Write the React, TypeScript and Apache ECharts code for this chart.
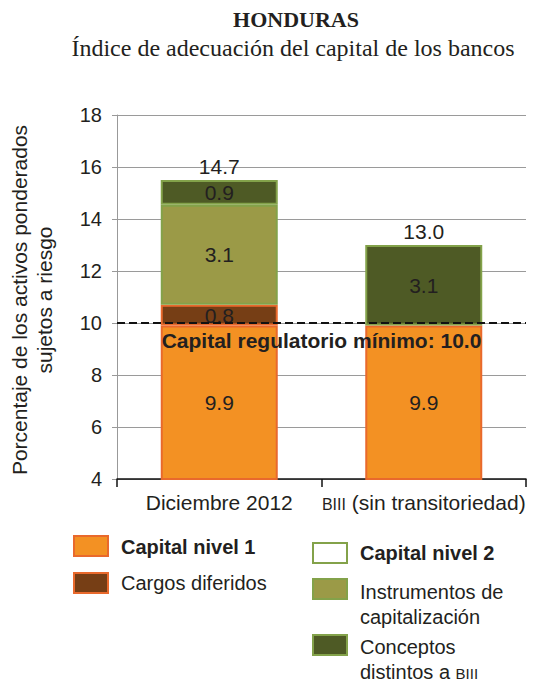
import React, { useEffect, useRef } from "react";
import * as echarts from "echarts";

const categories = ["Diciembre 2012", "{sc|BIII} (sin transitoriedad)"];
// drawn segment heights and the values printed on them
const capitalNivel1 = [9.9, 9.9];
const cargosDiferidos = [0.8, null];
const instrumentos = [3.85, null];
const conceptos = [0.95, 3.1];
const capitalNivel1Labels = ["9.9", "9.9"];
const cargosLabels = ["0.8", ""];
const instrumentosLabels = ["3.1", ""];
const conceptosLabels = ["0.9", "3.1"];
const totalLabels = ["14.7", "13.0"];
const minimoRegulatorio = 10.0;
const yTicks = { min: 4, max: 18, interval: 2 };

const FONT = "Liberation Sans, Arial, sans-serif";
const SERIF = "Liberation Serif, Times New Roman, serif";
const TXT = "#231F20";

const ORANGE = "#F39123";
const ORANGE_B = "#E9692C";
const BROWN = "#763E15";
const OLIVE = "#9B9A47";
const DARK = "#4E5A25";
const GREEN_B = "#83A24A";

export default function App() {
  const ref = useRef<HTMLDivElement>(null);
  useEffect(() => {
    document.body.style.margin = "0";
    const chart = echarts.init(ref.current!, undefined, { renderer: "svg" });
    const toData = (arr: (number | null)[]) => arr.map((v) => (v == null ? "-" : v));
    const tops = capitalNivel1.map(
      (v, i) => v + (cargosDiferidos[i] || 0) + (instrumentos[i] || 0) + (conceptos[i] || 0)
    );
    const inLabel = (labels: string[]) => ({
      show: true,
      position: "inside",
      fontFamily: FONT,
      fontSize: 21,
      color: TXT,
      formatter: (p: any) => labels[p.dataIndex],
    });
    const legendBox = (x: number, y: number, fill: string, stroke: string) => ({
      type: "rect",
      shape: { x, y, width: 34, height: 20 },
      style: { fill, stroke, lineWidth: 2 },
    });
    const legendText = (x: number, y: number, text: string, bold = false) => ({
      type: "text",
      x,
      y,
      style: {
        text,
        fontFamily: FONT,
        fontSize: 20,
        fontWeight: bold ? "bold" : "normal",
        fill: TXT,
        textVerticalAlign: "middle",
        verticalAlign: "middle",
        lineHeight: 25,
        rich: { sc: { fontSize: 15, fontFamily: FONT, fill: TXT, padding: [3, 0, 0, 0] } },
      },
    });
    chart.setOption({
      animation: false,
      grid: { left: 117, right: 13, top: 115, bottom: 203 },
      xAxis: {
        type: "category",
        data: categories,
        axisLine: { lineStyle: { color: "#111", width: 1.5 } },
        axisTick: { show: true, length: 8, lineStyle: { color: "#111", width: 1.5 } },
        axisLabel: {
          interval: 0,
          fontFamily: FONT,
          fontSize: 21,
          color: TXT,
          margin: 13,
          rich: { sc: { fontSize: 16, fontFamily: FONT, color: TXT, padding: [3, 0, 0, 0] } },
        },
      },
      yAxis: {
        type: "value",
        min: yTicks.min,
        max: yTicks.max,
        interval: yTicks.interval,
        axisLine: { show: true, lineStyle: { color: "#999" } },
        axisTick: { show: true, length: 5, lineStyle: { color: "#999" } },
        splitLine: { lineStyle: { color: "#9a9a9a" } },
        axisLabel: { fontFamily: FONT, fontSize: 20, color: TXT, margin: 15 },
      },
      series: [
        {
          name: "Capital nivel 1",
          type: "bar",
          stack: "t",
          barWidth: 117,
          data: toData(capitalNivel1),
          itemStyle: { color: ORANGE, borderColor: ORANGE_B, borderWidth: 2 },
          label: inLabel(capitalNivel1Labels),
        },
        {
          name: "Cargos diferidos",
          type: "bar",
          stack: "t",
          data: toData(cargosDiferidos),
          itemStyle: { color: BROWN, borderColor: ORANGE_B, borderWidth: 2 },
          label: inLabel(cargosLabels),
        },
        {
          name: "Instrumentos de capitalización",
          type: "bar",
          stack: "t",
          data: toData(instrumentos),
          itemStyle: { color: OLIVE, borderColor: GREEN_B, borderWidth: 2 },
          label: inLabel(instrumentosLabels),
        },
        {
          name: "Conceptos distintos a BIII",
          type: "bar",
          stack: "t",
          data: toData(conceptos),
          itemStyle: { color: DARK, borderColor: GREEN_B, borderWidth: 2 },
          label: inLabel(conceptosLabels),
        },
        {
          name: "Total",
          type: "scatter",
          z: 5,
          symbolSize: 0,
          itemStyle: { color: TXT, opacity: 1 },
          data: tops,
          label: {
            show: true,
            position: "top",
            distance: 3,
            fontFamily: FONT,
            fontSize: 21,
            color: TXT,
            opacity: 1,
            formatter: (p: any) => totalLabels[p.dataIndex],
          },
          markLine: {
            silent: true,
            symbol: "none",
            z: 6,
            data: [{ yAxis: minimoRegulatorio }],
            lineStyle: { color: "#111", type: [8, 4], width: 2 },
            label: {
              show: true,
              position: "insideMiddleBottom",
              distance: 7,
              fontFamily: FONT,
              fontSize: 21,
              fontWeight: "bold",
              color: TXT,
              formatter: "Capital regulatorio mínimo: " + minimoRegulatorio.toFixed(1),
            },
          },
        },
      ],
      graphic: [
        {
          type: "text",
          x: 296,
          y: 19,
          style: {
            text: "HONDURAS",
            fontFamily: SERIF,
            fontSize: 22,
            fontWeight: "bold",
            fill: TXT,
            textAlign: "center",
            textVerticalAlign: "middle",
            align: "center",
            verticalAlign: "middle",
          },
        },
        {
          type: "text",
          x: 293,
          y: 48,
          style: {
            text: "Índice de adecuación del capital de los bancos",
            fontFamily: SERIF,
            fontSize: 24,
            fill: TXT,
            textAlign: "center",
            textVerticalAlign: "middle",
            align: "center",
            verticalAlign: "middle",
          },
        },
        {
          type: "text",
          x: 32,
          y: 300,
          rotation: Math.PI / 2,
          style: {
            text: "Porcentaje de los activos ponderados\nsujetos a riesgo",
            fontFamily: FONT,
            fontSize: 21,
            lineHeight: 25,
            fill: TXT,
            textAlign: "center",
            textVerticalAlign: "middle",
            align: "center",
            verticalAlign: "middle",
          },
        },
        legendBox(74, 536, ORANGE, ORANGE_B),
        legendText(121, 547, "Capital nivel 1", true),
        legendBox(74, 573, BROWN, ORANGE_B),
        legendText(121, 583, "Cargos diferidos"),
        legendBox(313, 543, "#ffffff", GREEN_B),
        legendText(360, 553, "Capital nivel 2", true),
        legendBox(313, 579, OLIVE, GREEN_B),
        legendText(360, 604, "Instrumentos de\ncapitalización"),
        legendBox(313, 635, DARK, GREEN_B),
        legendText(360, 659, "Conceptos\ndistintos a {sc|BIII}"),
      ],
    });
    return () => chart.dispose();
  }, []);
  return <div ref={ref} style={{ width: 539, height: 682 }} />;
}
